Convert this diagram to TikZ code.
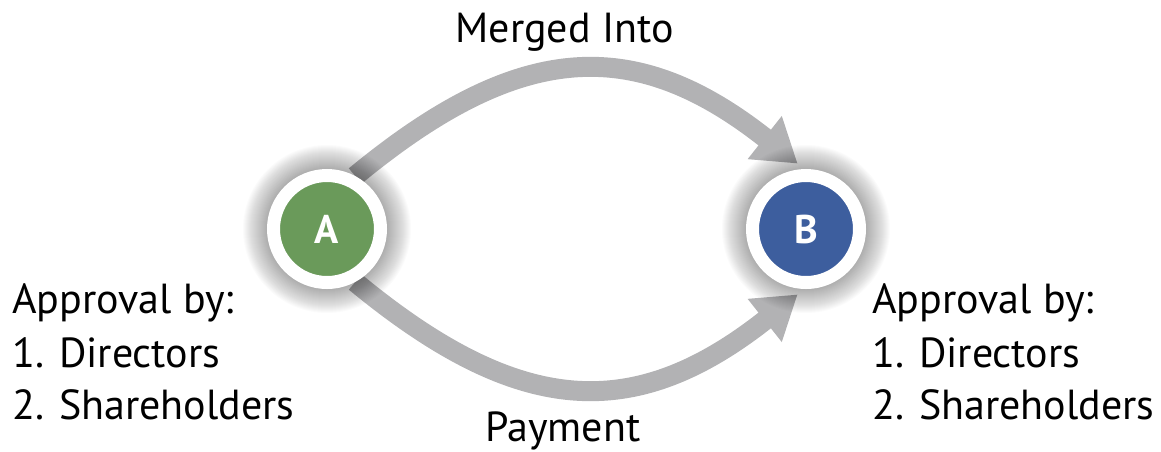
\documentclass[tikz,border=0pt]{standalone}
\usepackage{fontspec}
\setmainfont{PT Sans}
\usetikzlibrary{arrows.meta}
\definecolor{agreen}{RGB}{106,154,90}
\definecolor{bblue}{RGB}{61,94,158}
\definecolor{arrowgray}{RGB}{178,178,180}
\pgfdeclarelayer{background}
\pgfsetlayers{background,main}
\tikzset{
  party/.style={circle, draw=white, line width=13pt, minimum size=107pt, inner sep=0pt,
    text=white, font=\bfseries\fontsize{40}{40}\selectfont},
  flow/.style={draw=arrowgray, line width=20pt, -{Triangle[length=42pt,width=52pt]}},
  txt/.style={font=\fontsize{42}{42}\selectfont, inner sep=0pt, text=black},
  glow/.style={fill=black, opacity=0.016}
}
\begin{document}
\begin{tikzpicture}[x=1pt,y=-1pt]
\useasboundingbox (0,0) rectangle (1161,451);
% nodes
\node[party, fill=agreen] (A) at (327,229) {A};
\node[party, fill=bblue] (B) at (806,229) {B};
\coordinate (Btop) at ([yshift=6pt]B.98);
\coordinate (Bbot) at ([yshift=-6pt]B.-98);
\begin{pgfonlayer}{background}
  \draw[flow] (A.62) .. controls (520,40) and (635,35) .. (Btop);
  \draw[flow] (A.-62) .. controls (520,418) and (635,423) .. (Bbot);
  \foreach \r in {61,...,84} {
    \fill[glow] (A.center) circle (\r pt);
    \fill[glow] (B.center) circle (\r pt);
  }
\end{pgfonlayer}
% labels
\node[txt, anchor=base] (merged) at (564.5,42) {Merged Into};
\node[txt, anchor=base] (pay) at (563,441) {Payment};
\node[txt, anchor=base west] (la1) at (12,313) {Approval by:};
\node[txt, anchor=base west] (la2) at (12,367) {1. Directors};
\node[txt, anchor=base west] (la3) at (12,419) {2. Shareholders};
\node[txt, anchor=base west] (lb1) at (872,313) {Approval by:};
\node[txt, anchor=base west] (lb2) at (872,367) {1. Directors};
\node[txt, anchor=base west] (lb3) at (872,419) {2. Shareholders};
\end{tikzpicture}
\end{document}
